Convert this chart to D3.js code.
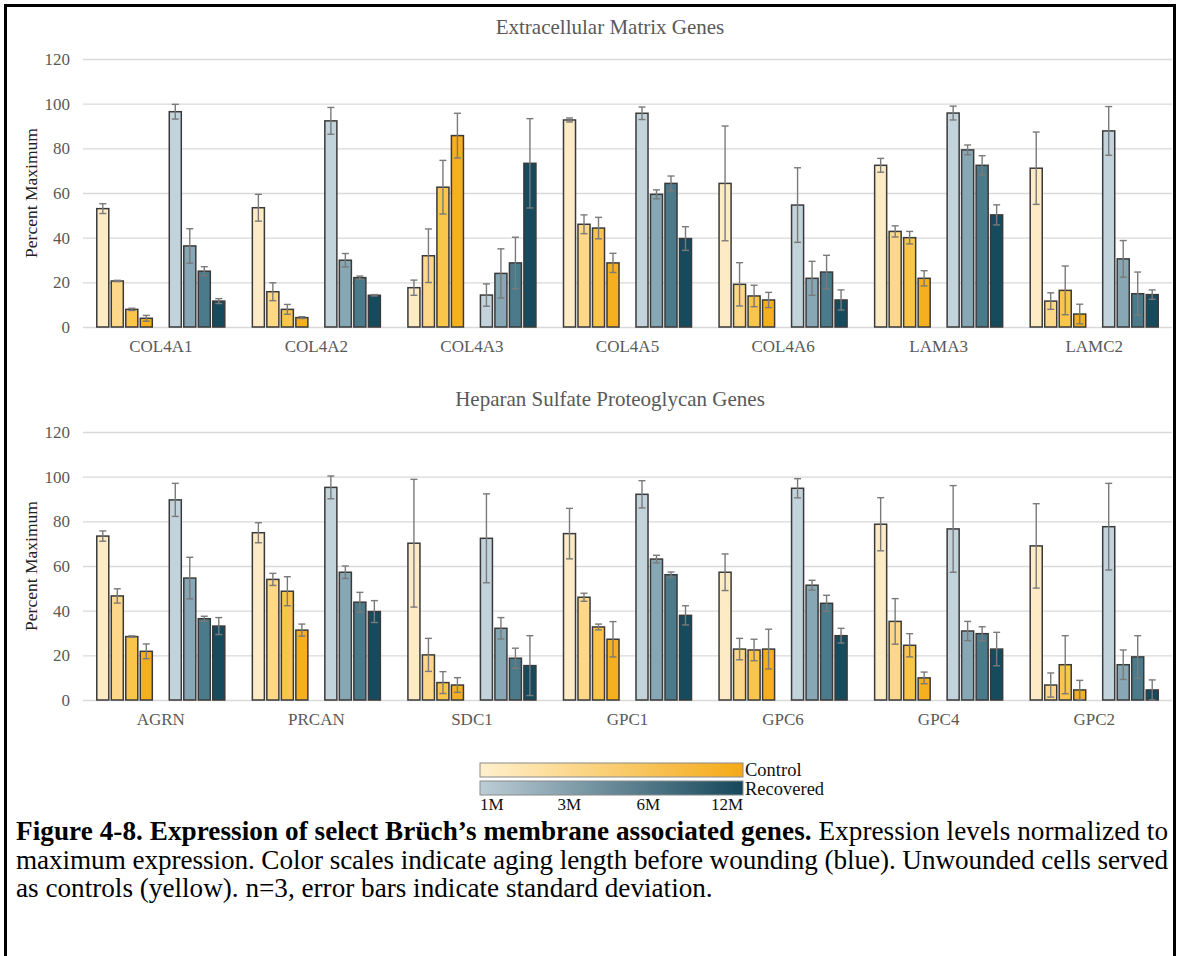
<!DOCTYPE html>
<html lang="en">
<head>
<meta charset="utf-8">
<title>Bruch's membrane genes</title>
<script src="https://cdn.jsdelivr.net/npm/d3@7"></script>
<style>
  body { margin: 0; background: #fff; }
  svg { display: block; font-family: "Liberation Serif", "Times New Roman", serif; }
</style>
</head>
<body>
<svg id="fig" width="1177" height="956"></svg>
<script>
// data
var ages = ["1M", "3M", "6M", "12M"];
var ecmGenes = ["COL4A1", "COL4A2", "COL4A3", "COL4A5", "COL4A6", "LAMA3", "LAMC2"];
var ecmControl = [[53, 20.6, 7.9, 3.9], [53.4, 15.8, 7.9, 4.2], [17.6, 31.9, 62.6, 85.7], [92.7, 46, 44.3, 28.7],
                  [64.3, 19.1, 13.9, 12.1], [72.4, 42.8, 40, 21.8], [71.1, 11.6, 16.4, 5.8]];
var ecmControlErr = [[2.2, 0.3, 0.5, 1.3], [6, 4, 2.2, 0.4], [3.4, 12, 12, 10], [0.9, 4.2, 4.8, 4.3],
                     [25.7, 9.7, 4.8, 3.4], [3.1, 2.5, 2.8, 3.4], [16.2, 3.7, 10.9, 4.4]];
var ecmRecovered = [[96.4, 36.3, 25, 11.6], [92.3, 29.9, 22.1, 14.2], [14.3, 24, 28.7, 73.3], [95.7, 59.4, 64.3, 39.6],
                    [54.6, 21.8, 24.6, 12.1], [95.8, 79.3, 72.4, 50.2], [87.8, 30.5, 14.9, 14.5]];
var ecmRecoveredErr = [[3.3, 7.7, 2, 1.1], [6, 3, 0.7, 0.3], [5, 11, 11.5, 20], [2.8, 2, 3.3, 5.3],
                       [16.7, 7.6, 7.5, 4.5], [3.1, 2.2, 4.3, 4.5], [10.9, 8.2, 9.7, 2.1]];

var hspgGenes = ["AGRN", "PRCAN", "SDC1", "GPC1", "GPC6", "GPC4", "GPC2"];
var hspgControl = [[73.4, 46.6, 28.4, 21.8], [74.9, 54, 48.7, 31.3], [70.2, 20.2, 7.8, 6.7], [74.5, 46, 32.7, 27.2],
                   [57.2, 22.8, 22.4, 22.8], [78.7, 35.2, 24.5, 9.9], [69, 6.7, 15.8, 4.5]];
var hspgControlErr = [[2.3, 3.2, 0.3, 3.3], [4.5, 2.7, 6.5, 2.7], [28.6, 7.4, 4.9, 3.3], [11.3, 1.8, 1.3, 7.9],
                      [8.2, 4.8, 4.8, 8.9], [11.9, 10.2, 5.2, 2.6], [18.9, 5.4, 13, 4.3]];
var hspgRecovered = [[89.6, 54.6, 36.4, 33.1], [95.2, 57.2, 43.8, 39.6], [72.4, 32.1, 18.7, 15.4], [92.1, 63.1, 56.1, 37.9],
                     [94.8, 51.4, 43.3, 28.8], [76.6, 30.9, 29.7, 22.8], [77.6, 15.8, 19.3, 4.5]];
var hspgRecoveredErr = [[7.4, 9.3, 1.1, 3.8], [5.1, 2.8, 4.4, 4.9], [19.9, 4.8, 4.5, 13.4], [6.1, 1.7, 1.2, 4.3],
                        [4.3, 2.2, 3.6, 3.3], [19.4, 4.3, 3.1, 7.5], [19.4, 6.6, 9.5, 4.5]];

var yTicks = [0, 20, 40, 60, 80, 100, 120];

var controlColors = ["#fdebc6", "#fcd888", "#f9c54b", "#f5b01f"];
var recoveredColors = ["#c3d3db", "#87a7b5", "#4b7a8b", "#164b5e"];

var serif = "Liberation Serif, Times New Roman, serif";
var svg = d3.select("#fig");

// outer frame
svg.append("rect")
  .attr("x", 5.5).attr("y", 5.5)
  .attr("width", 1169).attr("height", 955)
  .attr("fill", "none").attr("stroke", "#000").attr("stroke-width", 3);

var left = 83, right = 1172;

function drawChart(title, genes, control, controlErr, recovered, recoveredErr, y0, y120, titleY) {
  var g = svg.append("g");

  var x0 = d3.scaleBand().domain(genes).range([left, right]);
  // 9 slots per gene: 4 control, one empty, 4 recovered
  var x1 = d3.scaleBand().domain(d3.range(9)).range([0, x0.bandwidth()])
    .paddingInner(0.17).paddingOuter(0.95);
  var y = d3.scaleLinear().domain([0, 120]).range([y0, y120]);

  var yAxis = d3.axisLeft(y).tickValues(yTicks).tickSize(-(right - left)).tickPadding(13);
  var ga = g.append("g").attr("transform", "translate(" + left + ",0)").call(yAxis);
  ga.select(".domain").remove();
  ga.attr("font-family", serif);
  ga.selectAll(".tick line").attr("stroke", "#d9d9d9").attr("stroke-width", 1.4);
  ga.selectAll(".tick text").attr("fill", "#595959").attr("font-size", 17);

  var xAxis = d3.axisBottom(x0).tickSize(0).tickPadding(13);
  var gx = g.append("g").attr("transform", "translate(0," + y0 + ")").call(xAxis);
  gx.select(".domain").remove();
  gx.attr("font-family", serif);
  gx.selectAll(".tick text").attr("fill", "#595959").attr("font-size", 17);

  g.append("text")
    .attr("x", 610).attr("y", titleY)
    .attr("text-anchor", "middle")
    .attr("fill", "#595959").attr("font-size", 21)
    .text(title);

  g.append("text")
    .attr("transform", "translate(37," + ((y0 + y120) / 2) + ") rotate(-90)")
    .attr("text-anchor", "middle")
    .attr("fill", "#222").attr("font-size", 17.5)
    .text("Percent Maximum");

  var bars = [];
  genes.forEach(function(gene, i) {
    ages.forEach(function(a, j) {
      bars.push({gene: gene, slot: j, v: control[i][j], e: controlErr[i][j], c: controlColors[j]});
      bars.push({gene: gene, slot: j + 5, v: recovered[i][j], e: recoveredErr[i][j], c: recoveredColors[j]});
    });
  });

  g.selectAll("rect.bar").data(bars).enter().append("rect")
    .attr("class", "bar")
    .attr("x", function(d) { return x0(d.gene) + x1(d.slot); })
    .attr("y", function(d) { return y(d.v); })
    .attr("width", x1.bandwidth())
    .attr("height", function(d) { return y0 - y(d.v); })
    .attr("fill", function(d) { return d.c; })
    .attr("stroke", "#3a3a3a").attr("stroke-width", 1.5);

  var err = g.selectAll("g.err").data(bars).enter().append("g")
    .attr("class", "err")
    .attr("stroke", "#7a7a7a").attr("stroke-width", 1.4);
  function cx(d) { return x0(d.gene) + x1(d.slot) + x1.bandwidth() / 2; }
  err.append("line")
    .attr("x1", cx).attr("x2", cx)
    .attr("y1", function(d) { return y(d.v + d.e); })
    .attr("y2", function(d) { return y(Math.max(0, d.v - d.e)); });
  err.append("line")
    .attr("x1", function(d) { return cx(d) - 3.5; }).attr("x2", function(d) { return cx(d) + 3.5; })
    .attr("y1", function(d) { return y(d.v + d.e); })
    .attr("y2", function(d) { return y(d.v + d.e); });
  err.append("line")
    .attr("x1", function(d) { return cx(d) - 3.5; }).attr("x2", function(d) { return cx(d) + 3.5; })
    .attr("y1", function(d) { return y(Math.max(0, d.v - d.e)); })
    .attr("y2", function(d) { return y(Math.max(0, d.v - d.e)); });
}

drawChart("Extracellular Matrix Genes", ecmGenes, ecmControl, ecmControlErr, ecmRecovered, ecmRecoveredErr, 327, 59, 34);
drawChart("Heparan Sulfate Proteoglycan Genes", hspgGenes, hspgControl, hspgControlErr, hspgRecovered, hspgRecoveredErr, 700, 432, 406);

// legend: two gradient bars
var defs = svg.append("defs");
function grad(id, colors) {
  var lg = defs.append("linearGradient").attr("id", id);
  lg.selectAll("stop").data(colors).enter().append("stop")
    .attr("offset", function(d, i) { return i / (colors.length - 1); })
    .attr("stop-color", function(d) { return d; });
}
grad("gControl", ["#fff0cd", "#f5aa16"]);
grad("gRecovered", ["#bccdd6", "#15475a"]);

var lx = d3.scaleLinear().domain([0, 1]).range([480, 743]);
svg.append("rect").attr("x", lx(0)).attr("y", 763).attr("width", lx(1) - lx(0)).attr("height", 14)
  .attr("fill", "url(#gControl)").attr("stroke", "#8a8a8a").attr("stroke-width", 1);
svg.append("rect").attr("x", lx(0)).attr("y", 781).attr("width", lx(1) - lx(0)).attr("height", 14)
  .attr("fill", "url(#gRecovered)").attr("stroke", "#8a8a8a").attr("stroke-width", 1);
svg.append("text").attr("x", 745).attr("y", 776).attr("font-size", 18.5).attr("fill", "#111").text("Control");
svg.append("text").attr("x", 745).attr("y", 795).attr("font-size", 18.5).attr("fill", "#111").text("Recovered");

var ageLabelPos = [0, 0.34, 0.64, 1];
svg.selectAll("text.age").data(ages).enter().append("text")
  .attr("class", "age")
  .attr("x", function(d, i) { return lx(ageLabelPos[i]); })
  .attr("y", 810)
  .attr("text-anchor", function(d, i) { return i === 0 ? "start" : (i === 3 ? "end" : "middle"); })
  .attr("font-size", 17).attr("fill", "#111")
  .text(function(d) { return d; });

// caption: size the font so the last line spans the same width as in the figure
var cap = svg.append("g").attr("font-size", 25).attr("fill", "#000");
var l3 = cap.append("text").attr("x", 16).attr("y", 897)
  .text("as controls (yellow). n=3, error bars indicate standard deviation.");
var w3 = l3.node().getComputedTextLength();
var fs = Math.max(20, Math.min(30, 25 * 697 / w3));
cap.attr("font-size", fs);
var l1 = cap.append("text").attr("x", 16).attr("y", 840)
  .attr("textLength", 1152).attr("lengthAdjust", "spacing");
l1.append("tspan").attr("font-weight", "bold").text("Figure 4-8. Expression of select Br\u00fcch\u2019s membrane associated genes.");
l1.append("tspan").text(" Expression levels normalized to");
cap.append("text").attr("x", 16).attr("y", 869)
  .attr("textLength", 1152).attr("lengthAdjust", "spacing")
  .text("maximum expression. Color scales indicate aging length before wounding (blue). Unwounded cells served");
</script>
</body>
</html>
